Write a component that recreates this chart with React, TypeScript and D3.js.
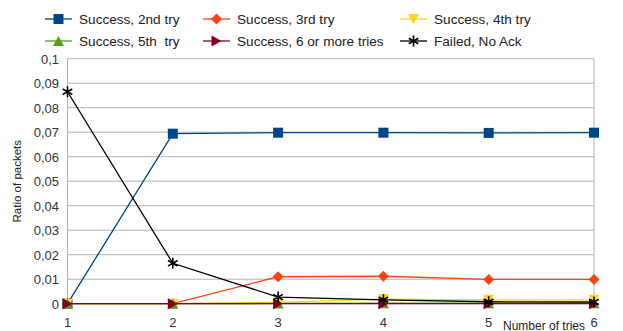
import React from "react";
import * as d3 from "d3";

const tries = [1, 2, 3, 4, 5, 6];
const yTicks = [0, 0.01, 0.02, 0.03, 0.04, 0.05, 0.06, 0.07, 0.08, 0.09, 0.1];
const seriesNames = [
  "Success, 2nd try",
  "Success, 3rd try",
  "Success, 4th try",
  "Success, 5th  try",
  "Success, 6 or more tries",
  "Failed, No Ack",
];
const seriesColors = ["#004586", "#ff420e", "#ffd320", "#579d1c", "#7e0021", "#000000"];
const seriesMarkers = ["square", "diamond", "triDown", "triUp", "triRight", "star"];
const success2 = [0, 0.0694, 0.0698, 0.0698, 0.0697, 0.0698];
const success3 = [0, 0, 0.011, 0.0112, 0.0099, 0.0099];
const success4 = [0, 0, 0.0005, 0.0019, 0.0016, 0.0016];
const success5 = [0, 0, 0.0001, 0.0002, 0.0002, 0.0002];
const success6 = [0, 0, 0, 0, 0, 0];
const failed = [0.0865, 0.0165, 0.0027, 0.0016, 0.0008, 0.0007];
const seriesValues = [success2, success3, success4, success5, success6, failed];

const W = 623;
const H = 331;

function Marker({ type, x, y, color }: { type: string; x: number; y: number; color: string }) {
  const s = 5;
  if (type === "square")
    return <rect x={x - s} y={y - s} width={2 * s} height={2 * s} fill={color} />;
  if (type === "diamond")
    return <path d={`M${x},${y - 5.5}L${x + 5.5},${y}L${x},${y + 5.5}L${x - 5.5},${y}Z`} fill={color} />;
  if (type === "triDown")
    return <path d={`M${x - 5.5},${y - 5}L${x + 5.5},${y - 5}L${x},${y + 5}Z`} fill={color} />;
  if (type === "triUp")
    return <path d={`M${x - 5.5},${y + 5}L${x + 5.5},${y + 5}L${x},${y - 5}Z`} fill={color} />;
  if (type === "triRight")
    return <path d={`M${x - 5},${y - 5.5}L${x + 5},${y}L${x - 5},${y + 5.5}Z`} fill={color} />;
  // star
  const r = 5.5;
  const lines = [0, 60, 120].map((a) => {
    const rad = (a * Math.PI) / 180 + Math.PI / 2;
    return `M${x - r * Math.cos(rad)},${y - r * Math.sin(rad)}L${x + r * Math.cos(rad)},${y + r * Math.sin(rad)}`;
  });
  return (
    <g stroke={color} strokeWidth={1.6}>
      <path d={lines.join("")} />
    </g>
  );
}

export default function App() {
  const x = d3.scaleLinear().domain([1, 6]).range([67.5, 594]);
  const y = d3.scaleLinear().domain([0, 0.1]).range([303.7, 58.7]);
  const line = d3
    .line<number>()
    .x((_, i) => x(tries[i]))
    .y((d) => y(d));
  const fmt = (v: number) => (v === 0 ? "0" : d3.format(".2~f")(v).replace(".", ","));
  const font = "'Liberation Sans', Arial, sans-serif";

  const legendCols = [45, 203, 400];
  const legendRows = [19, 41];

  return (
    <svg
      width={W}
      height={H}
      style={{ position: "absolute", left: 0, top: 0, background: "#fff" }}
      fontFamily={font}
    >
      {/* grid */}
      {yTicks.map((t) => (
        <line key={t} x1={x(1)} x2={x(6)} y1={y(t)} y2={y(t)} stroke="#b3b3b3" strokeWidth={1} />
      ))}
      <line x1={x(1)} x2={x(1)} y1={y(0.1)} y2={y(0)} stroke="#b3b3b3" strokeWidth={1} />
      <line x1={x(6)} x2={x(6)} y1={y(0.1)} y2={y(0)} stroke="#b3b3b3" strokeWidth={1} />
      {/* y tick labels */}
      {yTicks.map((t) => (
        <text key={t} x={59} y={y(t) + 5} fontSize={13} textAnchor="end" fill="#333">
          {fmt(t)}
        </text>
      ))}
      {/* x tick labels */}
      {tries.map((t) => (
        <text key={t} x={x(t)} y={327} fontSize={13} textAnchor="middle" fill="#333">
          {t}
        </text>
      ))}
      <text
        transform={`translate(21,${y(0.05)}) rotate(-90)`}
        fontSize={11.5}
        textAnchor="middle"
        fill="#222"
      >
        Ratio of packets
      </text>
      <text x={544} y={329.5} fontSize={12} textAnchor="middle" fill="#222">
        Number of tries
      </text>
      {/* series */}
      {seriesValues.map((vals, si) => (
        <g key={si}>
          <path d={line(vals) || ""} fill="none" stroke={seriesColors[si]} strokeWidth={1.3} />
          {vals.map((v, i) => (
            <Marker key={i} type={seriesMarkers[si]} x={x(tries[i])} y={y(v)} color={seriesColors[si]} />
          ))}
        </g>
      ))}
      {/* legend */}
      {seriesNames.map((name, i) => {
        const lx = legendCols[i % 3];
        const ly = legendRows[Math.floor(i / 3)];
        return (
          <g key={name}>
            <line x1={lx} x2={lx + 27} y1={ly} y2={ly} stroke={seriesColors[i]} strokeWidth={1.3} />
            <Marker type={seriesMarkers[i]} x={lx + 13.5} y={ly} color={seriesColors[i]} />
            <text x={lx + 34} y={ly + 5} fontSize={13.6} fill="#222" style={{ whiteSpace: "pre" }}>
              {name}
            </text>
          </g>
        );
      })}
    </svg>
  );
}
